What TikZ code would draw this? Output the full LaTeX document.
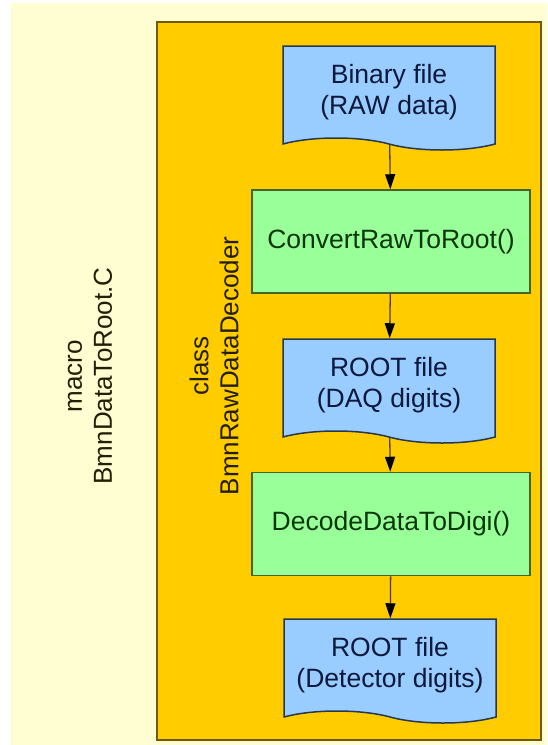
\documentclass[tikz,border=0pt]{standalone}
\usepackage{fontspec}
\setmainfont{Liberation Sans}
\usetikzlibrary{positioning, arrows.meta, shapes.symbols}

\definecolor{macrofill}{RGB}{255,254,210}
\definecolor{classfill}{RGB}{255,204,0}
\definecolor{classline}{RGB}{110,90,10}
\definecolor{docfill}{RGB}{153,204,255}
\definecolor{docline}{RGB}{40,55,80}
\definecolor{doctext}{RGB}{12,24,60}
\definecolor{procfill}{RGB}{153,255,153}
\definecolor{procline}{RGB}{70,100,40}
\definecolor{proctext}{RGB}{10,55,10}
\definecolor{arrline}{RGB}{80,60,0}
\definecolor{lbltext}{RGB}{35,30,5}

\begin{document}
\begin{tikzpicture}[
  x=1pt, y=1pt,
  font=\fontsize{26.5}{31}\selectfont,
  >={Triangle[length=15pt, width=10pt, color=black]},
  doc/.style={shape=tape, tape bend top=none, tape bend bottom=out and in,
              tape bend height=12pt, draw=docline, fill=docfill, text=doctext,
              line width=1.5pt, minimum width=212pt, minimum height=104pt,
              align=center},
  proc/.style={draw=procline, fill=procfill, text=proctext, line width=1.5pt,
               minimum width=278pt, minimum height=103pt, align=center},
  arr/.style={->, line width=1.3pt, draw=arrline},
  lbl/.style={rotate=90, align=center, text=lbltext, font=\fontsize{26}{30}\selectfont},
]
\useasboundingbox (0,0) rectangle (547,-745);
% ---- frames ----
\node[fill=macrofill, minimum width=536pt, minimum height=742pt] (macro) at (279,-374) {};
\node[draw=classline, fill=classfill, line width=1.8pt, minimum width=384pt,
      minimum height=718pt] (class) at (349,-381) {};
\node[lbl] (macrolbl) at (90,-376) {macro\\BmnDataToRoot.C};
\node[lbl] (classlbl) at (214,-366) {class\\BmnRawDataDecoder};
% ---- chain ----
\node[doc] (raw) at (389,-92) {Binary file\\(RAW data)};
\node[proc] (conv) at (391,-241.5) {ConvertRawToRoot()};
\node[doc] (daq) at (389,-385) {ROOT file\\(DAQ digits)};
\node[proc] (dec) at (391,-524) {DecodeDataToDigi()};
\node[doc] (det) at (390,-665) {ROOT file\\(Detector digits)};
% ---- arrows ----
\draw[arr] (raw) -- (conv);
\draw[arr] (conv) -- (daq);
\draw[arr] (daq) -- (dec);
\draw[arr] (dec) -- (det);
\end{tikzpicture}
\end{document}
